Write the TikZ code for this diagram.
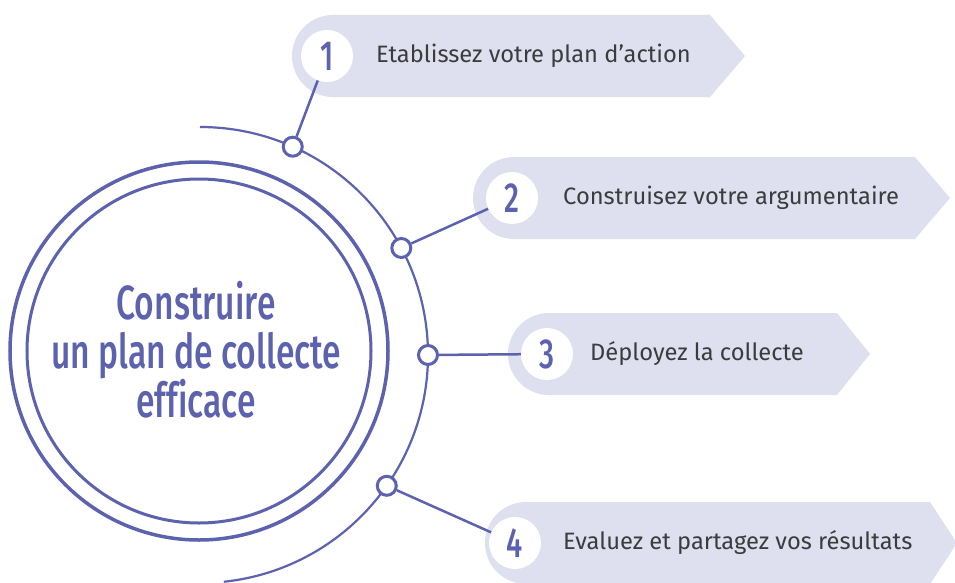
\documentclass[tikz,border=0pt]{standalone}
\usepackage{fontspec}
\setmainfont{Fira Sans}
\newfontfamily\titlefont[FakeStretch=0.70,Ligatures=NoCommon]{Fira Sans Medium}
\usepackage{tikz}
\usetikzlibrary{calc}
\definecolor{planviolet}{HTML}{5C62AE}
\definecolor{planpale}{HTML}{DEDFEF}
\definecolor{plantext}{HTML}{3C3C3C}
\tikzset{
	ring/.style={draw=planviolet,line width=3.5pt},
	dot/.style={circle,draw=planviolet,fill=white,line width=3pt,minimum size=19pt,inner sep=0pt},
	num/.style={circle,fill=white,minimum size=52pt,inner sep=0pt,text=planviolet,font=\titlefont\fontsize{42}{42}\selectfont},
	etape/.style={anchor=west,inner sep=0pt,text=plantext,font=\fontsize{23.7}{26}\selectfont},
	lien/.style={draw=planviolet,line width=2.5pt}
}
% bandeau: left x, end of box, tip x, middle y
\newcommand{\bandeau}[4]{%
	\fill[planpale] (#1+41,#4+41) -- (#2,#4+41) -- (#3,#4) -- (#2,#4-41) -- (#1+41,#4-41) arc[start angle=270,end angle=90,radius=41] -- cycle;}

\begin{document}
\begin{tikzpicture}[x=1pt,y=1pt]
	\useasboundingbox (-200,-227) rectangle (755,355);
	\bandeau{92}{510}{545}{299}
	\bandeau{273}{715}{750}{157}
	\bandeau{308}{637}{670}{1}
	\bandeau{285}{730}{757}{-188}
	\draw[planviolet,line width=2.2pt] (90:228) arc[start angle=90,end angle=-84,radius=228];
	\draw[ring] (-1,4) circle (189);
	\draw[ring,line width=3pt] (-1,4) circle (172);
	\node[align=center,text=planviolet,font=\titlefont\fontsize{48}{48.5}\selectfont] (titre) at (-4,5) {Construire\\un plan de collecte\\efficace};
	\node[dot] (p1) at (66:228) {};
	\node[dot] (p2) at (28:228) {};
	\node[dot] (p3) at (0:228) {};
	\node[dot] (p4) at (-35:228) {};
	\node[num] (n1) at (127,299) {1};
	\node[num] (n2) at (312,157) {2};
	\node[num] (n3) at (347,1) {3};
	\node[num] (n4) at (315,-188) {4};
	\draw[lien] (p1)--(n1);
	\draw[lien] (p2)--(n2);
	\draw[lien] (p3)--(n3);
	\draw[lien] (p4)--(n4);
	\node[etape] (t1) at (176,299) {Etablissez votre plan d’action};
	\node[etape] (t2) at (363,157) {Construisez votre argumentaire};
	\node[etape] (t3) at (390,1) {Déployez la collecte};
	\node[etape] (t4) at (363,-188) {Evaluez et partagez vos résultats};
\end{tikzpicture}
\end{document}
